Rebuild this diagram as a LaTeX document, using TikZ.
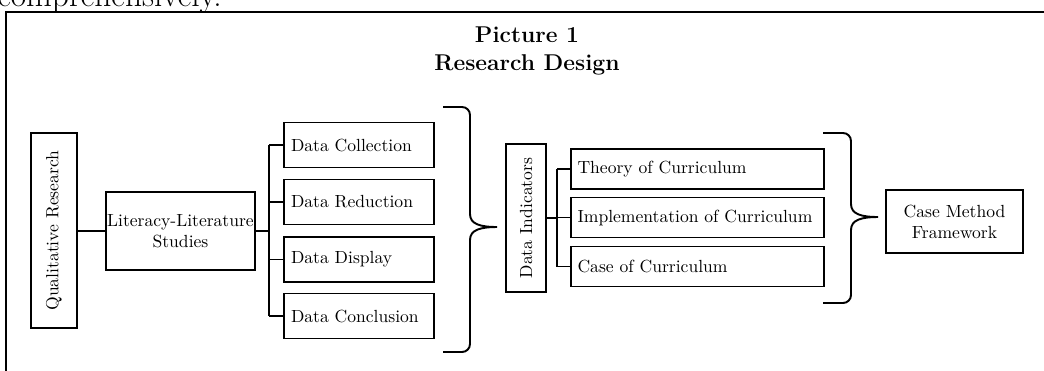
\documentclass[tikz,border=0pt]{standalone}
\usepackage{amsmath}
\usepackage{tikz}

\begin{document}
\begin{tikzpicture}[x=0.02cm, y=-0.02cm]

\tikzset{
    box/.style={draw, line width=1.1pt, inner sep=0pt, align=center},
    stepbox/.style={box, minimum width=3cm, minimum height=0.9cm, text width=2.72cm, align=left},
    itembox/.style={box, minimum width=5.06cm, minimum height=0.8cm, text width=4.8cm, align=left},
    link/.style={line width=1.1pt},
    bracket/.style={line width=1.1pt}
}
\useasboundingbox (0,0) rectangle (1044,370);
\draw[line width=1.1pt] (6,12) rectangle (1070,400);
\node[anchor=base west, inner sep=0pt, font=\fontsize{19}{22}\selectfont] (prev) at (-3,6) {comprehensively.};

\node[font=\fontsize{13}{15.5}\selectfont\bfseries, align=center] (title) at (527,51) {Picture 1\\Research Design};

\node[box, minimum width=0.92cm, minimum height=3.9cm] (qual) at (54,230.5) {};
\node[rotate=90] at (qual) {Qualitative Research};
\node[box, minimum width=2.98cm, minimum height=1.56cm, text width=2.94cm] (lit) at (180.5,231) {Literacy-Literature\\Studies};

\path (359,145) node[stepbox] (coll) {Data Collection};
\path (359,202) node[stepbox] (redu) {Data Reduction};
\path (359,259.5) node[stepbox] (disp) {Data Display};
\path (359,316) node[stepbox] (conc) {Data Conclusion};

\node[box, minimum width=0.8cm, minimum height=2.96cm] (ind) at (526,218) {};
\node[rotate=90] at (ind) {Data Indicators};

\path (697.5,169) node[itembox] (theo) {Theory of Curriculum};
\path (697.5,217.5) node[itembox] (impl) {Implementation of Curriculum};
\path (697.5,266.5) node[itembox] (case) {Case of Curriculum};

\node[box, minimum width=2.74cm, minimum height=1.26cm] (cmf) at (954.5,221.5) {Case Method\\Framework};

% connectors
\coordinate (trunkA) at (269,0);
\coordinate (trunkB) at (557,0);
\draw[link] (qual.east |- lit) -- (lit.west);
\draw[link] (lit.east) -- (lit.east -| trunkA);
\draw[link] (coll.west -| trunkA) -- (conc.west -| trunkA);
\foreach \n in {coll,redu,disp,conc}
    \draw[link] (\n.west -| trunkA) -- (\n.west);
\draw[link] (ind.east) -- (ind.east -| trunkB);
\draw[link] (theo.west -| trunkB) -- (case.west -| trunkB);
\foreach \n in {theo,impl,case}
    \draw[link] (\n.west -| trunkB) -- (\n.west);

% braces
\coordinate (tipA) at (497,227);
\draw[bracket] (443,107) -- (462,107) to[out=0,in=90] (470,115) -- (470,214)
    .. controls (470,224) and (480,227) .. (tipA) .. controls (480,227) and (470,230) .. (470,240)
    -- (470,344) to[out=-90,in=0] (462,352) -- (443,352);
\coordinate (tipB) at (878,217);
\draw[bracket] (823,133) -- (843,133) to[out=0,in=90] (851,141) -- (851,204)
    .. controls (851,214) and (861,217) .. (tipB) .. controls (861,217) and (851,220) .. (851,230)
    -- (851,295) to[out=-90,in=0] (843,303) -- (823,303);

\end{tikzpicture}
\end{document}
